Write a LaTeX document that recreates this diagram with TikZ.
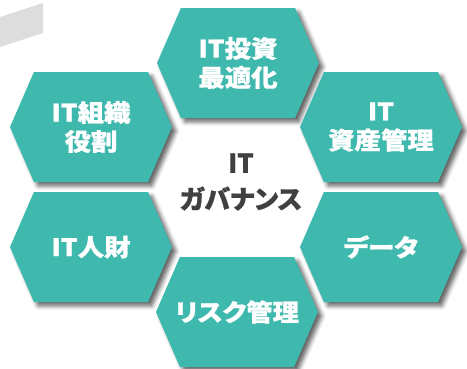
\documentclass[tikz,border=0pt]{standalone}
\usepackage{fontspec}
\newfontfamily\jpfont{Noto Sans CJK JP}[FakeStretch=1.1,RawFeature=+palt,BoldFeatures={FakeBold=0.8}]
\newfontfamily\jphubfont{Noto Sans CJK JP}[RawFeature=+palt,BoldFeatures={FakeBold=0.8}]
\usepackage{tikz}
\usetikzlibrary{shapes.symbols,shadows.blur}
\definecolor{hexteal}{HTML}{3FB9AE}
\definecolor{hubgray}{HTML}{404040}

\begin{document}
\begin{tikzpicture}[x=1pt,y=-1pt,
  hexa/.style={signal,signal to=west and east,signal pointer angle=133,
    fill=hexteal,draw=none,minimum width=162pt,minimum height=110pt,
    inner ysep=0pt,inner xsep=-20pt,
    text=white,font=\jpfont\bfseries\fontsize{24}{29}\selectfont,align=center,
    blur shadow={shadow xshift=4pt,shadow yshift=-4pt,shadow opacity=60,shadow blur radius=4pt}},
  hub/.style={text=hubgray,font=\jphubfont\bfseries\fontsize{26}{36}\selectfont,align=center}]
\useasboundingbox (0,0) rectangle (467,368);
% gray strip, top left
\fill[gray!27] (0,17) -- (43,3) -- (43,33) -- (0,47) -- cycle;
% six fields round the hub
\node[hexa] (invest) at (238,63){IT投資\\最適化};
\node[hexa] (org) at (91,127){IT組織\\役割};
\node[hexa] (asset) at (381,127){IT\\資産管理};
\node[hexa] (people) at (91,247){IT人財};
\node[hexa] (data) at (381,247){データ};
\node[hexa] (risk) at (237,312){リスク管理};
% hub
\node[hub] (gov) at (241,182){IT\\ガバナンス};
\end{tikzpicture}
\end{document}
